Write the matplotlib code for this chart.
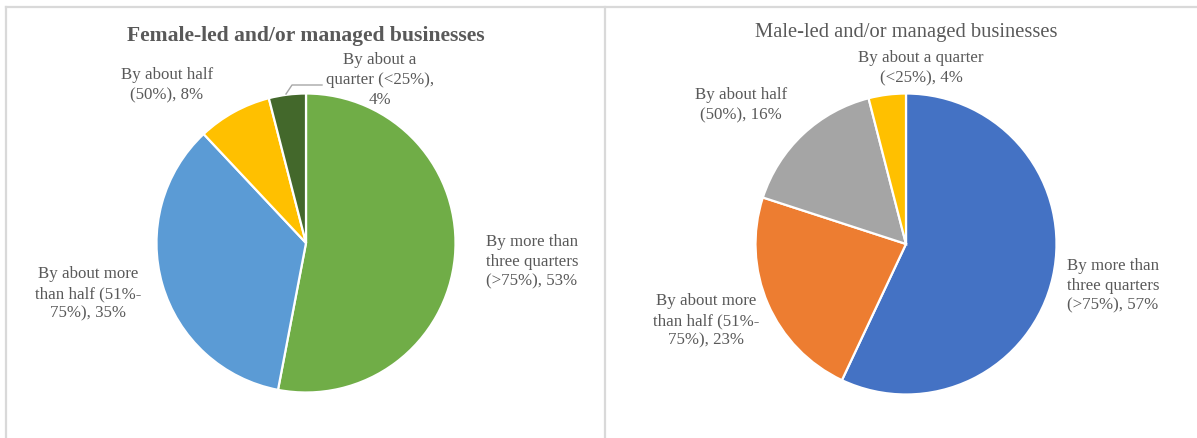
import numpy as np
import matplotlib.pyplot as plt
from matplotlib.lines import Line2D

# share of the business, female-led / managed
female_labels = ['By more than\nthree quarters\n(>75%), 53%',
                 'By about more\nthan half (51%-\n75%), 35%',
                 'By about half\n(50%), 8%',
                 'By about a\nquarter (<25%),\n4%']
female_values = [53, 35, 8, 4]
female_colors = ['#70AD47', '#5B9BD5', '#FFC000', '#43682B']

# share of the business, male-led / managed
male_labels = ['By more than\nthree quarters\n(>75%), 57%',
               'By about more\nthan half (51%-\n75%), 23%',
               'By about half\n(50%), 16%',
               'By about a quarter\n(<25%), 4%']
male_values = [57, 23, 16, 4]
male_colors = ['#4472C4', '#ED7D31', '#A5A5A5', '#FFC000']

W, H = 1197, 439
TXT = '#595959'
plt.rcParams['font.family'] = ['Liberation Serif', 'DejaVu Serif']

fig = plt.figure(figsize=(W / 100, H / 100), dpi=100)


def fx(x):
    return x / W


def fy(y):
    return 1 - y / H


def pie_axes(cx, cy, r):
    ax = fig.add_axes([fx(cx - r), fy(cy + r), 2 * r / W, 2 * r / H])
    ax.axis('off')
    return ax


def draw_pie(ax, values, colors):
    ax.pie(values, colors=colors, startangle=90, counterclock=False, radius=1,
           wedgeprops=dict(edgecolor='white', linewidth=1.6))
    ax.set_xlim(-1.01, 1.01)
    ax.set_ylim(-1.01, 1.01)


# left chart
ax1 = pie_axes(306, 244, 151)
draw_pie(ax1, female_values, female_colors)
fig.text(fx(306), fy(36), 'Female-led and/or managed businesses', ha='center', va='center',
         fontsize=15.6, fontweight='bold', color=TXT)
female_pos = [(532, 262), (88, 294), (167, 85), (380, 80)]
for lab, (x, y) in zip(female_labels, female_pos):
    fig.text(fx(x), fy(y), lab, ha='center', va='center', fontsize=12.2,
             color=TXT, linespacing=1.32)
# leader line for the smallest slice
fig.add_artist(Line2D([fx(286), fx(292), fx(322)], [fy(95), fy(86), fy(86)],
                      color='#A6A6A6', lw=1.0, transform=fig.transFigure))

# right chart
ax2 = pie_axes(906, 245, 152)
draw_pie(ax2, male_values, male_colors)
fig.text(fx(906), fy(32), 'Male-led and/or managed businesses', ha='center', va='center',
         fontsize=14.8, color=TXT)
male_pos = [(1113, 286), (706, 321), (741, 105), (921, 68)]
for lab, (x, y) in zip(male_labels, male_pos):
    fig.text(fx(x), fy(y), lab, ha='center', va='center', fontsize=12.2,
             color=TXT, linespacing=1.32)

# panel borders
border = dict(color='#D9D9D9', lw=1.6, transform=fig.transFigure)
fig.add_artist(Line2D([fx(6), fx(W)], [fy(8), fy(8)], **border))
fig.add_artist(Line2D([fx(6), fx(6)], [fy(8), fy(H)], **border))
fig.add_artist(Line2D([fx(605), fx(605)], [fy(8), fy(H)], **border))

fig.savefig('out.png', dpi=100, facecolor='white')
